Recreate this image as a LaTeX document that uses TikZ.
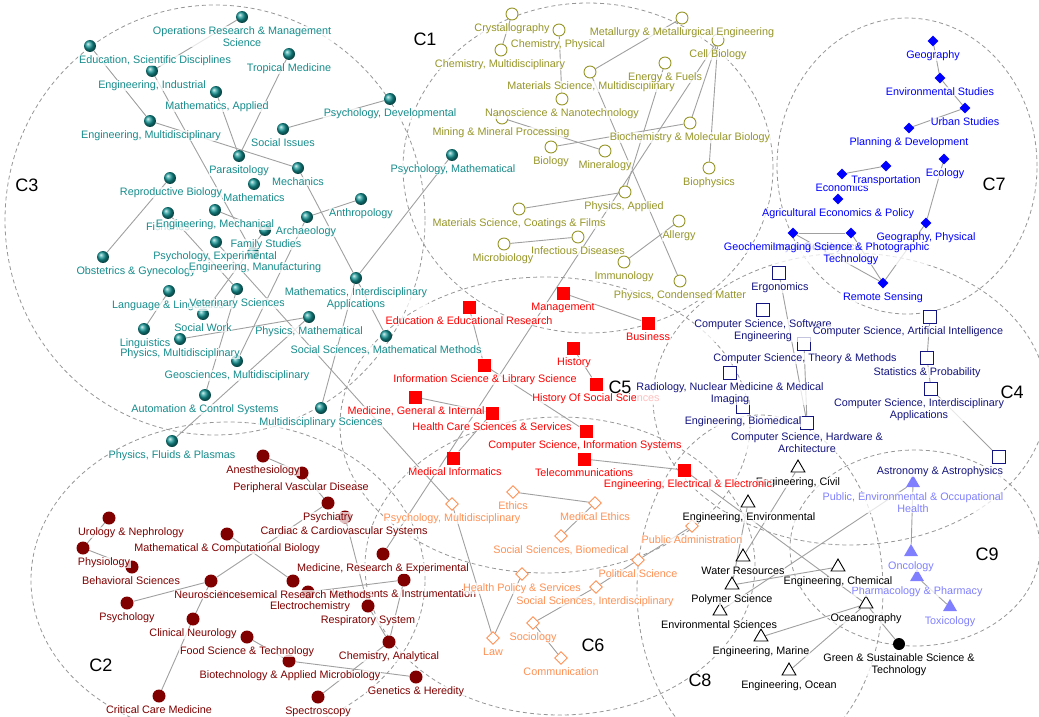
\documentclass[tikz,border=0pt]{standalone}
\usepackage{fontspec}
\setmainfont{Liberation Sans}
\usetikzlibrary{shapes.geometric,backgrounds}

\definecolor{tealc}{RGB}{22,140,140}
\definecolor{tealball}{RGB}{20,150,150}
\definecolor{olivec}{RGB}{150,150,40}
\definecolor{bluec}{RGB}{0,0,255}
\definecolor{navyc}{RGB}{20,20,128}
\definecolor{redc}{RGB}{255,0,0}
\definecolor{orangec}{RGB}{255,145,85}
\definecolor{maroonc}{RGB}{128,0,0}
\definecolor{lavc}{RGB}{128,128,255}
\definecolor{edgec}{RGB}{160,160,160}
\definecolor{ringc}{RGB}{150,150,150}

\newcommand{\lblfont}{\fontsize{10.8}{12}\selectfont}

\tikzset{
  ring/.style={draw=ringc, line width=0.8pt, dash pattern=on 4pt off 3pt},
  link/.style={draw=edgec, line width=0.9pt},
  lbl/.style={anchor=north, inner sep=0.6pt, fill=white, fill opacity=0.75,
    text opacity=1, align=center, font=\lblfont},
  tag/.style={font=\fontsize{18}{20}\selectfont, text=black},
  mkthree/.style={circle, inner sep=0pt, minimum size=12pt, shading=ball, ball color=tealball},
  mkone/.style={circle, inner sep=0pt, minimum size=12pt, draw=olivec, fill=white, line width=0.9pt},
  mkseven/.style={diamond, inner sep=0pt, minimum size=11pt, fill=bluec},
  mkfour/.style={rectangle, inner sep=0pt, minimum size=13pt, draw=navyc, fill=white, line width=0.9pt},
  mkfive/.style={rectangle, inner sep=0pt, minimum size=13pt, fill=redc},
  mksix/.style={diamond, inner sep=0pt, minimum size=13pt, draw=orangec, fill=white, line width=0.9pt},
  mktwo/.style={circle, inner sep=0pt, minimum size=13pt, fill=maroonc},
  mkeight/.style={regular polygon, regular polygon sides=3, inner sep=0pt, minimum size=16pt,
    draw=black, fill=white, line width=0.9pt},
  mknine/.style={regular polygon, regular polygon sides=3, inner sep=0pt, minimum size=16pt, fill=lavc},
  mkgreen/.style={circle, inner sep=0pt, minimum size=12pt, fill=black},
}

% ---- node lists: name / x / y / label x / label ----------------------------
\newcommand{\nodesone}{
cryst/512/14/512/Crystallography,
chemphys/559/30/558/{Chemistry, Physical},
chemmulti/501/50/500/{Chemistry, Multidisciplinary},
cellbio/718/40/718/Cell Biology,
metall/682/18/682/Metallurgy \& Metallurgical Engineering,
matsci/590/72/591/{Materials Science, Multidisciplinary},
energy/665/63/665/Energy \& Fuels,
nano/562/99/562/Nanoscience \& Nanotechnology,
mining/502/118/501/Mining \& Mineral Processing,
biochem/690/123/690/Biochemistry \& Molecular Biology,
biology/551/147/551/Biology,
minera/605/151/605/Mineralogy,
biophys/709/168/709/Biophysics,
physapp/625/192/624/{Physics, Applied},
coat/519/209/519/{Materials Science, Coatings \& Films},
allergy/679/221/679/Allergy,
infdis/578/237/578/Infectious Diseases,
microb/504/244/503/Microbiology,
immuno/624/262/624/Immunology,
condmat/680/281/680/{Physics, Condensed Matter}}

\newcommand{\nodesthree}{
ops/242/17/242/{Operations Research \& Management\\Science},
edusci/90/46/155/{Education, Scientific Disciplines},
engind/152/71/152/{Engineering, Industrial},
tropmed/289/54/289/Tropical Medicine,
mathapp/216/92/217/{Mathematics, Applied},
psydev/390/99/390/{Psychology, Developmental},
engmulti/150/121/151/{Engineering, Multidisciplinary},
socis/283/129/283/Social Issues,
parasit/239/156/239/Parasitology,
mech/298/168/298/Mechanics,
math/254/184/254/Mathematics,
reprbio/170/178/171/Reproductive Biology,
anthro/361/199/361/Anthropology,
archae/307/217/306/Archaeology,
fisher/168/213/168/Fisheries,
famstud/265/230/266/Family Studies,
engmech/215/210/215/{Engineering, Mechanical},
psyexp/216/242/215/{Psychology, Experimental},
obst/103/257/136/Obstetrics \& Gynecology,
engmanuf/253/253/255/{Engineering, Manufacturing},
langling/169/291/168/Language \& Linguistics,
vetsci/237/289/237/Veterinary Sciences,
socwork/203/314/203/Social Work,
physmath/309/317/309/{Physics, Mathematical},
lingu/144/329/145/Linguistics,
physmulti/180/339/180/{Physics, Multidisciplinary},
geomulti/237/361/237/{Geosciences, Multidisciplinary},
mathint/356/278/356/{Mathematics, Interdisciplinary\\Applications},
socmath/386/336/386/{Social Sciences, Mathematical Methods},
autoctrl/205/395/205/Automation \& Control Systems,
multisci/321/408/321/Multidisciplinary Sciences,
fluids/172/441/172/{Physics, Fluids \& Plasmas},
psymath/452/155/453/{Psychology, Mathematical}}

\newcommand{\nodesseven}{
geog/933/41/933/Geography,
envstud/940/78/940/Environmental Studies,
urban/965/108/965/Urban Studies,
planning/909/128/909/Planning \& Development,
ecology/944/159/945/Ecology,
econ/842/174/842/Economics,
transp/886/166/886/Transportation,
agecon/838/199/838/Agricultural Economics \& Policy,
geogphys/926/223/926/{Geography, Physical},
geochem/793/233/792/Geochemistry \& Geophysics,
imaging/851/233/851/{Imaging Science \& Photographic\\Technology},
remote/883/283/883/Remote Sensing}

\newcommand{\nodesfour}{
ergo/779/273/780/Ergonomics,
cssoft/763/310/763/{Computer Science, Software\\Engineering},
csai/930/317/908/{Computer Science, Artificial Intelligence},
cstheory/804/344/805/{Computer Science, Theory \& Methods},
stats/927/358/927/Statistics \& Probability,
engbio/743/407/743/{Engineering, Biomedical},
radio/730/373/730/{Radiology, Nuclear Medicine \& Medical\\Imaging},
csinter/931/389/919/{Computer Science, Interdisciplinary\\Applications},
cshard/807/423/807/{Computer Science, Hardware \&\\Architecture},
astro/999/457/940/Astronomy \& Astrophysics}

\newcommand{\nodesfive}{
manage/563/293/563/Management,
edures/469/307/469/Education \& Educational Research,
business/648/323/648/Business,
history/573/348/574/History,
infosci/484/365/485/Information Science \& Library Science,
histsoc/596/384/596/History Of Social Sciences,
health/492/413/492/Health Care Sciences \& Services,
medgen/415/397/416/{Medicine, General \& Internal},
csinfo/586/431/585/{Computer Science, Information Systems},
medinfo/453/458/455/Medical Informatics,
telecom/584/459/584/Telecommunications,
engelec/684/470/688/{Engineering, Electrical \& Electronic}}

\newcommand{\nodessix}{
ethics/513/492/513/Ethics,
medeth/595/503/595/Medical Ethics,
psymulti/452/504/452/{Psychology, Multidisciplinary},
socbio/561/536/561/{Social Sciences, Biomedical},
pubadm/692/526/692/Public Administration,
healthpol/522/574/522/Health Policy \& Services,
polsci/638/560/638/Political Science,
socint/596/587/595/{Social Sciences, Interdisciplinary},
sociol/533/623/533/Sociology,
law/493/638/493/Law,
commun/561/658/561/Communication}

\newcommand{\nodestwo}{
anesth/263/456/263/Anesthesiology,
pervasc/302/473/301/Peripheral Vascular Disease,
psychia/328/503/328/Psychiatry,
urology/109/518/131/Urology \& Nephrology,
cardiac/345/517/344/Cardiac \& Cardiovascular Systems,
mathbio/227/534/227/Mathematical \& Computational Biology,
physio/83/548/104/Physiology,
behav/132/567/131/Behavioral Sciences,
medres/383/554/383/{Medicine, Research \& Experimental},
instru/404/580/404/Instruments \& Instrumentation,
electro/308/592/310/Electrochemistry,
biochrm/293/581/295/Biochemical Research Methods,
neuro/211/581/210/Neurosciences,
psychol/127/603/127/Psychology,
respir/368/606/368/Respiratory System,
clinneu/193/619/193/Clinical Neurology,
foodsci/247/637/247/Food Science \& Technology,
chemanal/389/642/389/{Chemistry, Analytical},
biotech/289/661/290/Biotechnology \& Applied Microbiology,
genet/416/677/416/Genetics \& Heredity,
critcare/159/696/159/Critical Care Medicine,
spectro/318/697/318/Spectroscopy}

\newcommand{\nodesnine}{
pubenv/913/483/913/{Public, Environmental \& Occupational\\Health},
oncol/911/552/911/Oncology,
pharma/917/577/917/Pharmacology \& Pharmacy,
toxic/950/607/950/Toxicology}

\newcommand{\nodeseight}{
civil/798/468/798/{Engineering, Civil},
engenv/748/503/749/{Engineering, Environmental},
water/743/557/743/Water Resources,
engchem/838/567/838/{Engineering, Chemical},
polymer/732/585/732/Polymer Science,
envsci/720/611/719/Environmental Sciences,
oceano/866/604/866/Oceanography,
marine/761/637/761/{Engineering, Marine},
ocean/789/671/789/{Engineering, Ocean}}

\begin{document}
\begin{tikzpicture}[x=1pt, y=-1pt]
\useasboundingbox (0,0) rectangle (1039,717);

% ---- markers ---------------------------------------------------------------
\foreach \nm/\x/\y/\lx/\txt in \nodesone   \node[mkone]   (\nm) at (\x,\y) {};
\foreach \nm/\x/\y/\lx/\txt in \nodesthree \node[mkthree] (\nm) at (\x,\y) {};
\foreach \nm/\x/\y/\lx/\txt in \nodesseven \node[mkseven] (\nm) at (\x,\y) {};
\foreach \nm/\x/\y/\lx/\txt in \nodesfour  \node[mkfour]  (\nm) at (\x,\y) {};
\foreach \nm/\x/\y/\lx/\txt in \nodesfive  \node[mkfive]  (\nm) at (\x,\y) {};
\foreach \nm/\x/\y/\lx/\txt in \nodessix   \node[mksix]   (\nm) at (\x,\y) {};
\foreach \nm/\x/\y/\lx/\txt in \nodestwo   \node[mktwo]   (\nm) at (\x,\y) {};
\foreach \nm/\x/\y/\lx/\txt in \nodesnine  \node[mknine]  (\nm) at (\x,\y) {};
\foreach \nm/\x/\y/\lx/\txt in \nodeseight \node[mkeight] (\nm) at (\x,\y) {};
\node[mkgreen] (green) at (899,644) {};

% ---- cluster rings and links (behind) --------------------------------------
\begin{scope}[on background layer]
  \draw[ring] (588,168) ellipse [x radius=185pt, y radius=165pt];
  \draw[ring] (215,220) ellipse [x radius=210pt, y radius=215pt];
  \draw[ring] (907,166) ellipse [x radius=130pt, y radius=148pt];
  \draw[ring] (850,399) ellipse [x radius=197pt, y radius=146pt];
  \draw[ring] (545,425) ellipse [x radius=205pt, y radius=148pt];
  \draw[ring] (560,566) ellipse [x radius=195pt, y radius=149pt];
  \draw[ring] (228,580) ellipse [x radius=197pt, y radius=158pt];
  \draw[ring] (760,590) ellipse [x radius=123pt, y radius=175pt];
  \draw[ring] (915,548) ellipse [x radius=125pt, y radius=98pt];

  \foreach \a/\b in {cryst/chemmulti, chemphys/nano, metall/matsci, matsci/condmat,
      energy/physapp, cellbio/biochem, cellbio/biophys, mining/minera, biology/biochem,
      physapp/coat, microb/infdis, allergy/immuno,
      ops/engind, edusci/engmulti, engind/engmanuf, mathapp/parasit, tropmed/parasit,
      socis/psydev, engmulti/mech, mech/mathint, anthro/archae, reprbio/obst,
      engmech/famstud, fisher/vetsci, archae/geomulti, psymath/mathint, langling/lingu,
      vetsci/autoctrl, physmulti/physmath, fluids/physmath, mathint/multisci,
      mathint/socmath, famstud/socwork,
      geog/envstud, envstud/urban, urban/planning, econ/transp, ecology/geogphys,
      geogphys/remote, geochem/imaging, geochem/remote, imaging/remote,
      ergo/cshard, cstheory/cshard, csai/stats, stats/csinter, csinter/astro,
      manage/business, edures/infosci, history/histsoc, medgen/health, infosci/csinfo,
      telecom/engelec, health/medinfo,
      ethics/medeth, medeth/socbio, pubadm/polsci, polsci/socint, socint/sociol,
      sociol/commun, healthpol/law, psymulti/law,
      anesth/pervasc, pervasc/psychia, urology/physio, physio/behav, mathbio/biochrm,
      psychia/neuro, neuro/psychol, neuro/clinneu, clinneu/critcare, foodsci/biotech,
      biotech/genet, instru/chemanal, instru/electro, cardiac/respir, respir/chemanal,
      chemanal/spectro,
      pubenv/oncol, pharma/toxic,
      civil/water, engenv/polymer, polymer/engchem, oceano/marine, oceano/ocean,
      oceano/green,
      cellbio/medres, psyexp/psymulti, engelec/oceano, envsci/pubenv}
    \draw[link] (\a) -- (\b);
\end{scope}

% ---- labels ----------------------------------------------------------------
\foreach \nm/\x/\y/\lx/\txt in \nodesone   \node[lbl,text=olivec]  at (\lx,\y+9) {\txt};
\foreach \nm/\x/\y/\lx/\txt in \nodesthree \node[lbl,text=tealc]   at (\lx,\y+9) {\txt};
\foreach \nm/\x/\y/\lx/\txt in \nodesseven \node[lbl,text=bluec]   at (\lx,\y+9) {\txt};
\foreach \nm/\x/\y/\lx/\txt in \nodestwo   \node[lbl,text=maroonc] at (\lx,\y+9) {\txt};
\foreach \nm/\x/\y/\lx/\txt in \nodessix   \node[lbl,text=orangec] at (\lx,\y+9) {\txt};
\foreach \nm/\x/\y/\lx/\txt in \nodesnine  \node[lbl,text=lavc]    at (\lx,\y+9) {\txt};
\foreach \nm/\x/\y/\lx/\txt in \nodeseight \node[lbl,text=black]   at (\lx,\y+9) {\txt};
\node[lbl,text=black] at (899,653) {Green \& Sustainable Science \&\\Technology};
\foreach \nm/\x/\y/\lx/\txt in \nodesfive  \node[lbl,text=redc]    at (\lx,\y+9) {\txt};
\foreach \nm/\x/\y/\lx/\txt in \nodesfour  \node[lbl,text=navyc]   at (\lx,\y+9) {\txt};

% ---- cluster tags ----------------------------------------------------------
\node[tag] (tagone)   at (425,39)  {C1};
\node[tag] (tagtwo)   at (101,665) {C2};
\node[tag] (tagthree) at (27,185)  {C3};
\node[tag] (tagfour)  at (1012,392) {C4};
\node[tag] (tagfive)  at (620,387) {C5};
\node[tag] (tagsix)   at (593,645) {C6};
\node[tag] (tagseven) at (994,184) {C7};
\node[tag] (tageight) at (700,680) {C8};
\node[tag] (tagnine)  at (987,554) {C9};

\end{tikzpicture}
\end{document}
